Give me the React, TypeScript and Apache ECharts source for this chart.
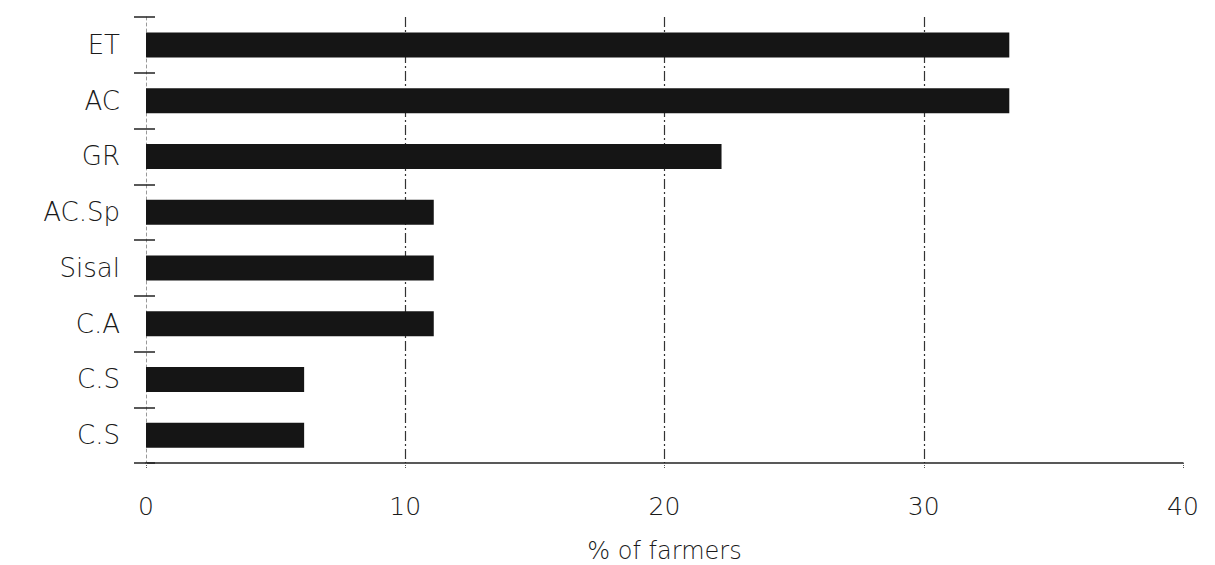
import React, { useEffect, useRef } from "react";
import * as echarts from "echarts";

const categories = ["ET", "AC", "GR", "AC.Sp", "Sisal", "C.A", "C.S", "C.S"];
const values = [33.3, 33.3, 22.2, 11.1, 11.1, 11.1, 6.1, 6.1];
const xTicks = [0, 10, 20, 30, 40];
const axisTitle = "% of farmers";

export default function App() {
  const ref = useRef<HTMLDivElement>(null);
  useEffect(() => {
    if (!ref.current) return;
    const chart = echarts.init(ref.current, null, { renderer: "svg" });
    const font = "DejaVu Sans";
    chart.setOption({
      animation: false,
      backgroundColor: "#fff",
      grid: { left: 146, right: 32, top: 17, bottom: 102, outerBoundsMode: "none", containLabel: false },
      xAxis: {
        type: "value",
        min: xTicks[0],
        max: xTicks[xTicks.length - 1],
        interval: 10,
        name: axisTitle,
        nameLocation: "middle",
        nameGap: 76,
        nameTextStyle: { fontFamily: font, fontSize: 24, fontWeight: 200, color: "#1a1a1a", lineHeight: 24 },
        axisLine: { show: true, lineStyle: { color: "#222", width: 1.5 } },
        axisTick: { show: true, length: 5, lineStyle: { color: "#555", type: "dotted" } },
        axisLabel: { fontFamily: font, fontSize: 25, fontWeight: 200, color: "#1a1a1a", margin: 31 },
        splitLine: {
          show: true,
          showMinLine: false,
          showMaxLine: false,
          lineStyle: { color: "#333", type: [10, 3, 2, 3], width: 1.2 },
        },
      },
      yAxis: [
        {
          type: "category",
          data: categories,
          inverse: true,
          axisLine: { show: true, lineStyle: { color: "#999", type: [3, 3], width: 1 } },
          axisTick: { show: true, length: 12, lineStyle: { color: "#222", width: 1.5 } },
          axisLabel: { fontFamily: font, fontSize: 26, fontWeight: 200, color: "#1a1a1a", margin: 26 },
          splitLine: { show: false },
        },
        {
          type: "category",
          data: categories,
          inverse: true,
          position: "left",
          axisLine: { show: false },
          axisTick: { show: true, inside: true, length: 9, lineStyle: { color: "#222", width: 1.5 } },
          axisLabel: { show: false },
          splitLine: { show: false },
        },
      ],
      series: [
        {
          type: "bar",
          data: values,
          barWidth: 25,
          itemStyle: { color: "#151515" },
        },
      ],
    });
    return () => chart.dispose();
  }, []);
  return (
    <div style={{ width: 1215, height: 565, position: "absolute", left: 0, top: 0, overflow: "hidden" }}>
      <div ref={ref} style={{ width: 1215, height: 565 }} />
    </div>
  );
}
